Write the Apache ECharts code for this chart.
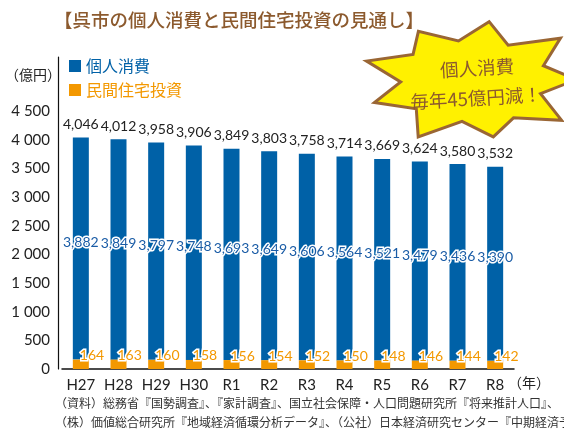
<!DOCTYPE html>
<html>
<head>
<meta charset="utf-8">
<script src="https://cdn.jsdelivr.net/npm/echarts@6/dist/echarts.min.js"></script>
<style>
html, body {margin: 0; padding: 0; background: #fff;}
#main {width: 564px; height: 431px;}
</style>
</head>
<body>
<div id="main"></div>
<script>
var years = ['H27', 'H28', 'H29', 'H30', 'R1', 'R2', 'R3', 'R4', 'R5', 'R6', 'R7', 'R8'];
var consumption = [3882, 3849, 3797, 3748, 3693, 3649, 3606, 3564, 3521, 3479, 3436, 3390];
var housing = [164, 163, 160, 158, 156, 154, 152, 150, 148, 146, 144, 142];
var totals = [4046, 4012, 3958, 3906, 3849, 3803, 3758, 3714, 3669, 3624, 3580, 3532];

var FONT = 'Lato, "Noto Sans CJK JP", sans-serif';
var JP = '"Noto Sans CJK JP", sans-serif';
var BLUE = '#0061a7';
var ORANGE = '#f39800';
var BROWN = '#8c5a2e';

// starburst outline for the callout (decoration only)
var starR = [1, 0.68, 1.08, 0.7, 0.96, 0.66, 1.05, 0.72, 0.95, 0.68, 1.06, 0.7, 0.98, 0.67, 1.04, 0.71, 0.97, 0.68];
var starPts = [];
for (var i = 0; i < starR.length; i++) {
    var a = Math.PI * 2 * i / starR.length - Math.PI / 2 + 0.15;
    starPts.push([473 + Math.cos(a) * 108 * starR[i], 81 + Math.sin(a) * 60 * starR[i]]);
}

var chart = echarts.init(document.getElementById('main'));
chart.setOption({
    animation: false,
    textStyle: {fontFamily: FONT},
    grid: {left: 62, right: 50, top: 57, bottom: 62},
    legend: {
        left: 64, top: 53, orient: 'vertical', itemGap: 8,
        icon: 'rect', itemWidth: 12, itemHeight: 12,
        textStyle: {fontFamily: JP, fontSize: 16},
        data: [
            {name: '個人消費', textStyle: {color: BLUE}},
            {name: '民間住宅投資', textStyle: {color: ORANGE}}
        ]
    },
    xAxis: {
        type: 'category',
        data: years,
        axisLine: {lineStyle: {color: '#111', width: 1.5}},
        axisTick: {show: false},
        axisLabel: {color: '#222', fontSize: 15, margin: 9}
    },
    yAxis: {
        type: 'value', min: 0, max: 5450, interval: 500,
        offset: 4,
        axisLine: {show: true, lineStyle: {color: '#111', width: 1.2}},
        axisTick: {show: false},
        splitLine: {show: false},
        axisLabel: {
            color: '#222', fontSize: 15, margin: 8,
            formatter: function(v) {
                if (v > 4500) return '';
                return v >= 1000 ? Math.floor(v / 1000) + ' ' + String(v % 1000).padStart(3, '0') : String(v);
            }
        }
    },
    series: [{
        name: '合計',
        type: 'bar',
        barWidth: 16,
        barGap: '-100%',
        data: totals,
        itemStyle: {color: 'rgba(0,0,0,0)'},
        silent: true,
        z: 1,
        label: {
            show: true,
            position: 'top',
            distance: 6,
            color: '#222',
            fontSize: 14,
            formatter: function(p) { return p.value.toLocaleString('en-US'); }
        }
    }, {
        name: '民間住宅投資',
        type: 'bar',
        stack: 'total',
        barWidth: 16,
        color: ORANGE,
        data: housing,
        z: 3,
        label: {
            show: true,
            position: ['50%', 0],
            align: 'left',
            verticalAlign: 'middle',
            offset: [-1, -4],
            color: ORANGE,
            fontSize: 14,
            textBorderColor: '#fff',
            textBorderWidth: 3
        }
    }, {
        name: '個人消費',
        type: 'bar',
        stack: 'total',
        barWidth: 16,
        color: BLUE,
        data: consumption,
        z: 2,
        label: {
            show: true,
            position: 'inside',
            offset: [0, -6],
            color: '#1a5ca6',
            fontSize: 14,
            textBorderColor: '#fff',
            textBorderWidth: 3,
            formatter: function(p) { return p.value.toLocaleString('en-US'); }
        }
    }],
    graphic: [{
        type: 'text', left: 54, top: 11,
        style: {text: '【呉市の個人消費と民間住宅投資の見通し】', fill: BROWN, font: '500 18.5px "Noto Sans CJK JP"'}
    }, {
        type: 'text', left: 5, top: 68,
        style: {text: '（億円）', fill: '#222', font: '14px "Noto Sans CJK JP"'}
    }, {
        type: 'text', left: 508, top: 376,
        style: {text: '（年）', fill: '#222', font: '14px "Noto Sans CJK JP"'}
    }, {
        type: 'polygon',
        shape: {points: starPts},
        style: {fill: '#fff100', stroke: '#9a6634', lineWidth: 3}
    }, {
        type: 'text', x: 477, y: 68, rotation: 0.06,
        style: {text: '個人消費', fill: BROWN, font: '18.5px "Noto Sans CJK JP"', align: 'center', verticalAlign: 'middle'}
    }, {
        type: 'text', x: 476, y: 98, rotation: 0.06,
        style: {text: '毎年45億円減！', fill: BROWN, font: '18.5px "Noto Sans CJK JP"', align: 'center', verticalAlign: 'middle'}
    }, {
        type: 'text', left: 55, top: 397,
        style: {text: '（資料）総務省『国勢調査』、『家計調査』、国立社会保障・人口問題研究所『将来推計人口』、', fill: '#333', font: '12px "Noto Sans CJK JP"'}
    }, {
        type: 'text', left: 55, top: 416,
        style: {text: '（株）価値総合研究所『地域経済循環分析データ』、（公社）日本経済研究センター『中期経済予測』', fill: '#333', font: '12px "Noto Sans CJK JP"'}
    }]
});
</script>
</body>
</html>
